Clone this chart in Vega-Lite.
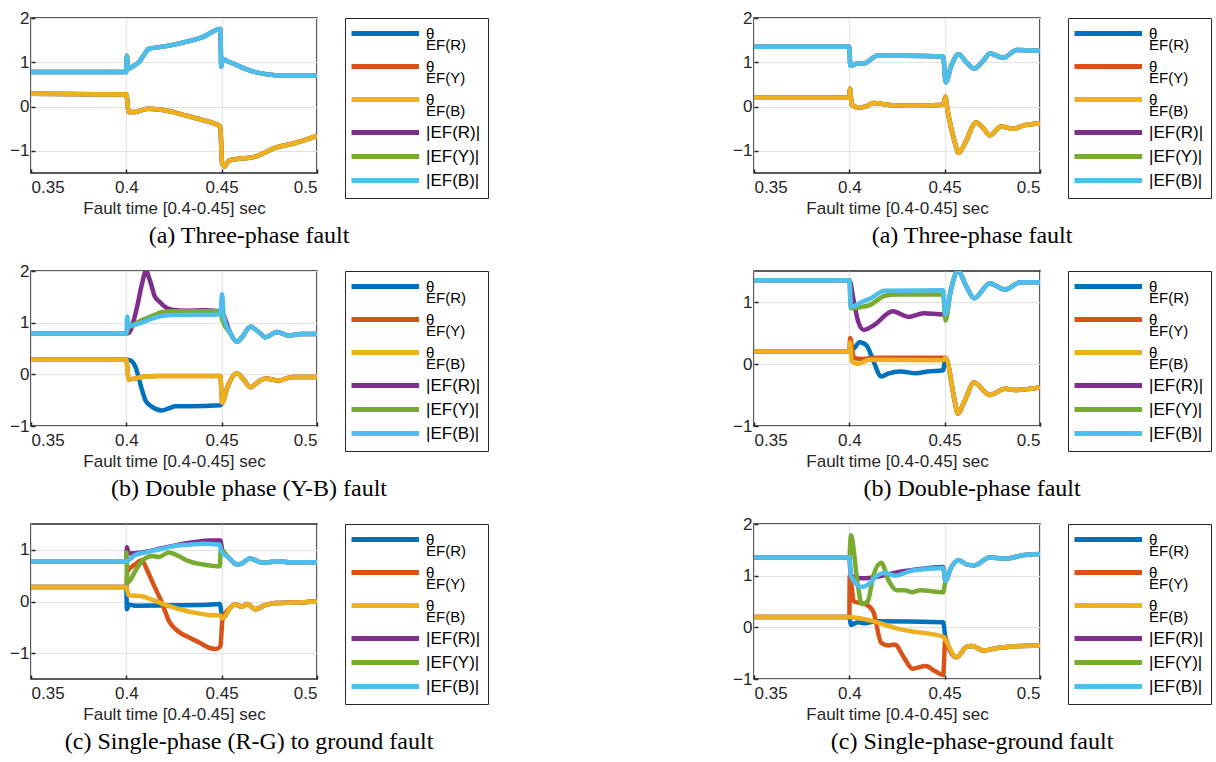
{
"$schema":"https://vega.github.io/schema/vega-lite/v6.json",
"padding":{"left":8,"top":8,"right":0,"bottom":0},
"background":"white",
"datasets":{"d":[
{"p":"a","s":"θEF(R)","t":0.35,"v":0.29},{"p":"a","s":"θEF(R)","t":0.4,"v":0.27},{"p":"a","s":"θEF(R)","t":0.4012,"v":-0.12},{"p":"a","s":"θEF(R)","t":0.405,"v":-0.12},{"p":"a","s":"θEF(R)","t":0.408,"v":-0.08},{"p":"a","s":"θEF(R)","t":0.4117,"v":-0.05},{"p":"a","s":"θEF(R)","t":0.4222,"v":-0.1},{"p":"a","s":"θEF(R)","t":0.431,"v":-0.2},{"p":"a","s":"θEF(R)","t":0.4397,"v":-0.3},{"p":"a","s":"θEF(R)","t":0.4493,"v":-0.45},{"p":"a","s":"θEF(R)","t":0.4502,"v":-1.28},{"p":"a","s":"θEF(R)","t":0.4516,"v":-1.35},{"p":"a","s":"θEF(R)","t":0.4537,"v":-1.22},{"p":"a","s":"θEF(R)","t":0.4572,"v":-1.19},{"p":"a","s":"θEF(R)","t":0.4677,"v":-1.13},{"p":"a","s":"θEF(R)","t":0.473,"v":-1.03},{"p":"a","s":"θEF(R)","t":0.4781,"v":-0.93},{"p":"a","s":"θEF(R)","t":0.4869,"v":-0.84},{"p":"a","s":"θEF(R)","t":0.4939,"v":-0.75},{"p":"a","s":"θEF(R)","t":0.5,"v":-0.66},
{"p":"a","s":"θEF(Y)","t":0.35,"v":0.29},{"p":"a","s":"θEF(Y)","t":0.4,"v":0.27},{"p":"a","s":"θEF(Y)","t":0.4012,"v":-0.12},{"p":"a","s":"θEF(Y)","t":0.405,"v":-0.12},{"p":"a","s":"θEF(Y)","t":0.408,"v":-0.08},{"p":"a","s":"θEF(Y)","t":0.4117,"v":-0.05},{"p":"a","s":"θEF(Y)","t":0.4222,"v":-0.1},{"p":"a","s":"θEF(Y)","t":0.431,"v":-0.2},{"p":"a","s":"θEF(Y)","t":0.4397,"v":-0.3},{"p":"a","s":"θEF(Y)","t":0.4493,"v":-0.45},{"p":"a","s":"θEF(Y)","t":0.4502,"v":-1.28},{"p":"a","s":"θEF(Y)","t":0.4516,"v":-1.35},{"p":"a","s":"θEF(Y)","t":0.4537,"v":-1.22},{"p":"a","s":"θEF(Y)","t":0.4572,"v":-1.19},{"p":"a","s":"θEF(Y)","t":0.4677,"v":-1.13},{"p":"a","s":"θEF(Y)","t":0.473,"v":-1.03},{"p":"a","s":"θEF(Y)","t":0.4781,"v":-0.93},{"p":"a","s":"θEF(Y)","t":0.4869,"v":-0.84},{"p":"a","s":"θEF(Y)","t":0.4939,"v":-0.75},{"p":"a","s":"θEF(Y)","t":0.5,"v":-0.66},
{"p":"a","s":"θEF(B)","t":0.35,"v":0.29},{"p":"a","s":"θEF(B)","t":0.4,"v":0.27},{"p":"a","s":"θEF(B)","t":0.4012,"v":-0.12},{"p":"a","s":"θEF(B)","t":0.405,"v":-0.12},{"p":"a","s":"θEF(B)","t":0.408,"v":-0.08},{"p":"a","s":"θEF(B)","t":0.4117,"v":-0.05},{"p":"a","s":"θEF(B)","t":0.4222,"v":-0.1},{"p":"a","s":"θEF(B)","t":0.431,"v":-0.2},{"p":"a","s":"θEF(B)","t":0.4397,"v":-0.3},{"p":"a","s":"θEF(B)","t":0.4493,"v":-0.45},{"p":"a","s":"θEF(B)","t":0.4502,"v":-1.28},{"p":"a","s":"θEF(B)","t":0.4516,"v":-1.35},{"p":"a","s":"θEF(B)","t":0.4537,"v":-1.22},{"p":"a","s":"θEF(B)","t":0.4572,"v":-1.19},{"p":"a","s":"θEF(B)","t":0.4677,"v":-1.13},{"p":"a","s":"θEF(B)","t":0.473,"v":-1.03},{"p":"a","s":"θEF(B)","t":0.4781,"v":-0.93},{"p":"a","s":"θEF(B)","t":0.4869,"v":-0.84},{"p":"a","s":"θEF(B)","t":0.4939,"v":-0.75},{"p":"a","s":"θEF(B)","t":0.5,"v":-0.66},
{"p":"a","s":"|EF(R)|","t":0.35,"v":0.78},{"p":"a","s":"|EF(R)|","t":0.4,"v":0.78},{"p":"a","s":"|EF(R)|","t":0.4003,"v":1.15},{"p":"a","s":"|EF(R)|","t":0.4008,"v":0.85},{"p":"a","s":"|EF(R)|","t":0.4038,"v":0.92},{"p":"a","s":"|EF(R)|","t":0.4065,"v":1.0},{"p":"a","s":"|EF(R)|","t":0.409,"v":1.15},{"p":"a","s":"|EF(R)|","t":0.4117,"v":1.3},{"p":"a","s":"|EF(R)|","t":0.42,"v":1.36},{"p":"a","s":"|EF(R)|","t":0.43,"v":1.45},{"p":"a","s":"|EF(R)|","t":0.44,"v":1.57},{"p":"a","s":"|EF(R)|","t":0.4493,"v":1.75},{"p":"a","s":"|EF(R)|","t":0.4498,"v":0.9},{"p":"a","s":"|EF(R)|","t":0.4505,"v":1.08},{"p":"a","s":"|EF(R)|","t":0.4528,"v":1.03},{"p":"a","s":"|EF(R)|","t":0.4572,"v":0.95},{"p":"a","s":"|EF(R)|","t":0.4624,"v":0.85},{"p":"a","s":"|EF(R)|","t":0.4694,"v":0.76},{"p":"a","s":"|EF(R)|","t":0.4781,"v":0.71},{"p":"a","s":"|EF(R)|","t":0.5,"v":0.7},
{"p":"a","s":"|EF(Y)|","t":0.35,"v":0.78},{"p":"a","s":"|EF(Y)|","t":0.4,"v":0.78},{"p":"a","s":"|EF(Y)|","t":0.4003,"v":1.15},{"p":"a","s":"|EF(Y)|","t":0.4008,"v":0.85},{"p":"a","s":"|EF(Y)|","t":0.4038,"v":0.92},{"p":"a","s":"|EF(Y)|","t":0.4065,"v":1.0},{"p":"a","s":"|EF(Y)|","t":0.409,"v":1.15},{"p":"a","s":"|EF(Y)|","t":0.4117,"v":1.3},{"p":"a","s":"|EF(Y)|","t":0.42,"v":1.36},{"p":"a","s":"|EF(Y)|","t":0.43,"v":1.45},{"p":"a","s":"|EF(Y)|","t":0.44,"v":1.57},{"p":"a","s":"|EF(Y)|","t":0.4493,"v":1.75},{"p":"a","s":"|EF(Y)|","t":0.4498,"v":0.9},{"p":"a","s":"|EF(Y)|","t":0.4505,"v":1.08},{"p":"a","s":"|EF(Y)|","t":0.4528,"v":1.03},{"p":"a","s":"|EF(Y)|","t":0.4572,"v":0.95},{"p":"a","s":"|EF(Y)|","t":0.4624,"v":0.85},{"p":"a","s":"|EF(Y)|","t":0.4694,"v":0.76},{"p":"a","s":"|EF(Y)|","t":0.4781,"v":0.71},{"p":"a","s":"|EF(Y)|","t":0.5,"v":0.7},
{"p":"a","s":"|EF(B)|","t":0.35,"v":0.78},{"p":"a","s":"|EF(B)|","t":0.4,"v":0.78},{"p":"a","s":"|EF(B)|","t":0.4003,"v":1.15},{"p":"a","s":"|EF(B)|","t":0.4008,"v":0.85},{"p":"a","s":"|EF(B)|","t":0.4038,"v":0.92},{"p":"a","s":"|EF(B)|","t":0.4065,"v":1.0},{"p":"a","s":"|EF(B)|","t":0.409,"v":1.15},{"p":"a","s":"|EF(B)|","t":0.4117,"v":1.3},{"p":"a","s":"|EF(B)|","t":0.42,"v":1.36},{"p":"a","s":"|EF(B)|","t":0.43,"v":1.45},{"p":"a","s":"|EF(B)|","t":0.44,"v":1.57},{"p":"a","s":"|EF(B)|","t":0.4493,"v":1.75},{"p":"a","s":"|EF(B)|","t":0.4498,"v":0.9},{"p":"a","s":"|EF(B)|","t":0.4505,"v":1.08},{"p":"a","s":"|EF(B)|","t":0.4528,"v":1.03},{"p":"a","s":"|EF(B)|","t":0.4572,"v":0.95},{"p":"a","s":"|EF(B)|","t":0.4624,"v":0.85},{"p":"a","s":"|EF(B)|","t":0.4694,"v":0.76},{"p":"a","s":"|EF(B)|","t":0.4781,"v":0.71},{"p":"a","s":"|EF(B)|","t":0.5,"v":0.7},

{"p":"b","s":"θEF(R)","t":0.35,"v":0.28},{"p":"b","s":"θEF(R)","t":0.4,"v":0.28},{"p":"b","s":"θEF(R)","t":0.4021,"v":0.27},{"p":"b","s":"θEF(R)","t":0.4047,"v":0.15},{"p":"b","s":"θEF(R)","t":0.4082,"v":-0.3},{"p":"b","s":"θEF(R)","t":0.41,"v":-0.5},{"p":"b","s":"θEF(R)","t":0.4135,"v":-0.63},{"p":"b","s":"θEF(R)","t":0.4187,"v":-0.7},{"p":"b","s":"θEF(R)","t":0.4222,"v":-0.66},{"p":"b","s":"θEF(R)","t":0.4257,"v":-0.62},{"p":"b","s":"θEF(R)","t":0.4327,"v":-0.62},{"p":"b","s":"θEF(R)","t":0.4493,"v":-0.6},{"p":"b","s":"θEF(R)","t":0.4503,"v":-0.55},{"p":"b","s":"θEF(R)","t":0.453,"v":-0.25},{"p":"b","s":"θEF(R)","t":0.458,"v":0.02},{"p":"b","s":"θEF(R)","t":0.4615,"v":-0.1},{"p":"b","s":"θEF(R)","t":0.465,"v":-0.25},{"p":"b","s":"θEF(R)","t":0.469,"v":-0.15},{"p":"b","s":"θEF(R)","t":0.4729,"v":-0.08},{"p":"b","s":"θEF(R)","t":0.4799,"v":-0.12},{"p":"b","s":"θEF(R)","t":0.4869,"v":-0.05},{"p":"b","s":"θEF(R)","t":0.5,"v":-0.05},
{"p":"b","s":"θEF(Y)","t":0.35,"v":0.28},{"p":"b","s":"θEF(Y)","t":0.4,"v":0.28},{"p":"b","s":"θEF(Y)","t":0.4012,"v":-0.1},{"p":"b","s":"θEF(Y)","t":0.4082,"v":-0.05},{"p":"b","s":"θEF(Y)","t":0.417,"v":-0.03},{"p":"b","s":"θEF(Y)","t":0.4493,"v":-0.03},{"p":"b","s":"θEF(Y)","t":0.4503,"v":-0.55},{"p":"b","s":"θEF(Y)","t":0.453,"v":-0.25},{"p":"b","s":"θEF(Y)","t":0.458,"v":0.02},{"p":"b","s":"θEF(Y)","t":0.4615,"v":-0.1},{"p":"b","s":"θEF(Y)","t":0.465,"v":-0.25},{"p":"b","s":"θEF(Y)","t":0.469,"v":-0.15},{"p":"b","s":"θEF(Y)","t":0.4729,"v":-0.08},{"p":"b","s":"θEF(Y)","t":0.4799,"v":-0.12},{"p":"b","s":"θEF(Y)","t":0.4869,"v":-0.05},{"p":"b","s":"θEF(Y)","t":0.5,"v":-0.05},
{"p":"b","s":"θEF(B)","t":0.35,"v":0.28},{"p":"b","s":"θEF(B)","t":0.4,"v":0.28},{"p":"b","s":"θEF(B)","t":0.4012,"v":-0.1},{"p":"b","s":"θEF(B)","t":0.4082,"v":-0.05},{"p":"b","s":"θEF(B)","t":0.417,"v":-0.03},{"p":"b","s":"θEF(B)","t":0.4493,"v":-0.03},{"p":"b","s":"θEF(B)","t":0.4503,"v":-0.55},{"p":"b","s":"θEF(B)","t":0.453,"v":-0.25},{"p":"b","s":"θEF(B)","t":0.458,"v":0.02},{"p":"b","s":"θEF(B)","t":0.4615,"v":-0.1},{"p":"b","s":"θEF(B)","t":0.465,"v":-0.25},{"p":"b","s":"θEF(B)","t":0.469,"v":-0.15},{"p":"b","s":"θEF(B)","t":0.4729,"v":-0.08},{"p":"b","s":"θEF(B)","t":0.4799,"v":-0.12},{"p":"b","s":"θEF(B)","t":0.4869,"v":-0.05},{"p":"b","s":"θEF(B)","t":0.5,"v":-0.05},
{"p":"b","s":"|EF(R)|","t":0.35,"v":0.79},{"p":"b","s":"|EF(R)|","t":0.4,"v":0.79},{"p":"b","s":"|EF(R)|","t":0.4012,"v":0.8},{"p":"b","s":"|EF(R)|","t":0.4056,"v":1.3},{"p":"b","s":"|EF(R)|","t":0.4082,"v":1.75},{"p":"b","s":"|EF(R)|","t":0.4103,"v":2.0},{"p":"b","s":"|EF(R)|","t":0.4125,"v":1.8},{"p":"b","s":"|EF(R)|","t":0.415,"v":1.5},{"p":"b","s":"|EF(R)|","t":0.417,"v":1.42},{"p":"b","s":"|EF(R)|","t":0.4205,"v":1.3},{"p":"b","s":"|EF(R)|","t":0.424,"v":1.25},{"p":"b","s":"|EF(R)|","t":0.4327,"v":1.23},{"p":"b","s":"|EF(R)|","t":0.4397,"v":1.24},{"p":"b","s":"|EF(R)|","t":0.4493,"v":1.22},{"p":"b","s":"|EF(R)|","t":0.4502,"v":1.2},{"p":"b","s":"|EF(R)|","t":0.4545,"v":0.8},{"p":"b","s":"|EF(R)|","t":0.458,"v":0.63},{"p":"b","s":"|EF(R)|","t":0.4607,"v":0.72},{"p":"b","s":"|EF(R)|","t":0.465,"v":0.92},{"p":"b","s":"|EF(R)|","t":0.4694,"v":0.82},{"p":"b","s":"|EF(R)|","t":0.4729,"v":0.72},{"p":"b","s":"|EF(R)|","t":0.479,"v":0.82},{"p":"b","s":"|EF(R)|","t":0.4851,"v":0.75},{"p":"b","s":"|EF(R)|","t":0.4921,"v":0.78},{"p":"b","s":"|EF(R)|","t":0.5,"v":0.78},
{"p":"b","s":"|EF(Y)|","t":0.35,"v":0.79},{"p":"b","s":"|EF(Y)|","t":0.4,"v":0.79},{"p":"b","s":"|EF(Y)|","t":0.4012,"v":0.92},{"p":"b","s":"|EF(Y)|","t":0.4047,"v":0.98},{"p":"b","s":"|EF(Y)|","t":0.4082,"v":1.05},{"p":"b","s":"|EF(Y)|","t":0.4135,"v":1.13},{"p":"b","s":"|EF(Y)|","t":0.4187,"v":1.2},{"p":"b","s":"|EF(Y)|","t":0.4257,"v":1.22},{"p":"b","s":"|EF(Y)|","t":0.4493,"v":1.22},{"p":"b","s":"|EF(Y)|","t":0.4503,"v":1.05},{"p":"b","s":"|EF(Y)|","t":0.4545,"v":0.8},{"p":"b","s":"|EF(Y)|","t":0.458,"v":0.63},{"p":"b","s":"|EF(Y)|","t":0.4607,"v":0.72},{"p":"b","s":"|EF(Y)|","t":0.465,"v":0.92},{"p":"b","s":"|EF(Y)|","t":0.4694,"v":0.82},{"p":"b","s":"|EF(Y)|","t":0.4729,"v":0.72},{"p":"b","s":"|EF(Y)|","t":0.479,"v":0.82},{"p":"b","s":"|EF(Y)|","t":0.4851,"v":0.75},{"p":"b","s":"|EF(Y)|","t":0.4921,"v":0.78},{"p":"b","s":"|EF(Y)|","t":0.5,"v":0.78},
{"p":"b","s":"|EF(B)|","t":0.35,"v":0.79},{"p":"b","s":"|EF(B)|","t":0.4,"v":0.79},{"p":"b","s":"|EF(B)|","t":0.4005,"v":1.12},{"p":"b","s":"|EF(B)|","t":0.4012,"v":0.93},{"p":"b","s":"|EF(B)|","t":0.4047,"v":0.96},{"p":"b","s":"|EF(B)|","t":0.4082,"v":1.0},{"p":"b","s":"|EF(B)|","t":0.4135,"v":1.08},{"p":"b","s":"|EF(B)|","t":0.4187,"v":1.13},{"p":"b","s":"|EF(B)|","t":0.424,"v":1.15},{"p":"b","s":"|EF(B)|","t":0.4493,"v":1.16},{"p":"b","s":"|EF(B)|","t":0.4502,"v":1.55},{"p":"b","s":"|EF(B)|","t":0.4512,"v":1.1},{"p":"b","s":"|EF(B)|","t":0.4545,"v":0.8},{"p":"b","s":"|EF(B)|","t":0.458,"v":0.63},{"p":"b","s":"|EF(B)|","t":0.4607,"v":0.72},{"p":"b","s":"|EF(B)|","t":0.465,"v":0.92},{"p":"b","s":"|EF(B)|","t":0.4694,"v":0.82},{"p":"b","s":"|EF(B)|","t":0.4729,"v":0.72},{"p":"b","s":"|EF(B)|","t":0.479,"v":0.82},{"p":"b","s":"|EF(B)|","t":0.4851,"v":0.75},{"p":"b","s":"|EF(B)|","t":0.4921,"v":0.78},{"p":"b","s":"|EF(B)|","t":0.5,"v":0.78},

{"p":"c","s":"θEF(R)","t":0.35,"v":0.28},{"p":"c","s":"θEF(R)","t":0.4,"v":0.28},{"p":"c","s":"θEF(R)","t":0.4003,"v":-0.15},{"p":"c","s":"θEF(R)","t":0.4012,"v":-0.06},{"p":"c","s":"θEF(R)","t":0.4047,"v":-0.08},{"p":"c","s":"θEF(R)","t":0.44,"v":-0.07},{"p":"c","s":"θEF(R)","t":0.449,"v":-0.05},{"p":"c","s":"θEF(R)","t":0.4505,"v":-0.33},{"p":"c","s":"θEF(R)","t":0.4545,"v":-0.12},{"p":"c","s":"θEF(R)","t":0.4572,"v":-0.06},{"p":"c","s":"θEF(R)","t":0.4607,"v":-0.1},{"p":"c","s":"θEF(R)","t":0.4633,"v":-0.05},{"p":"c","s":"θEF(R)","t":0.4677,"v":-0.15},{"p":"c","s":"θEF(R)","t":0.4729,"v":-0.07},{"p":"c","s":"θEF(R)","t":0.4781,"v":-0.03},{"p":"c","s":"θEF(R)","t":0.4886,"v":-0.02},{"p":"c","s":"θEF(R)","t":0.5,"v":0.0},
{"p":"c","s":"θEF(Y)","t":0.35,"v":0.28},{"p":"c","s":"θEF(Y)","t":0.4,"v":0.28},{"p":"c","s":"θEF(Y)","t":0.4005,"v":0.58},{"p":"c","s":"θEF(Y)","t":0.4047,"v":0.72},{"p":"c","s":"θEF(Y)","t":0.408,"v":0.8},{"p":"c","s":"θEF(Y)","t":0.411,"v":0.6},{"p":"c","s":"θEF(Y)","t":0.414,"v":0.35},{"p":"c","s":"θEF(Y)","t":0.4184,"v":0.0},{"p":"c","s":"θEF(Y)","t":0.4227,"v":-0.4},{"p":"c","s":"θEF(Y)","t":0.428,"v":-0.6},{"p":"c","s":"θEF(Y)","t":0.4332,"v":-0.7},{"p":"c","s":"θEF(Y)","t":0.4385,"v":-0.8},{"p":"c","s":"θEF(Y)","t":0.4437,"v":-0.9},{"p":"c","s":"θEF(Y)","t":0.4472,"v":-0.92},{"p":"c","s":"θEF(Y)","t":0.4493,"v":-0.87},{"p":"c","s":"θEF(Y)","t":0.4505,"v":-0.33},{"p":"c","s":"θEF(Y)","t":0.4545,"v":-0.12},{"p":"c","s":"θEF(Y)","t":0.4572,"v":-0.06},{"p":"c","s":"θEF(Y)","t":0.4607,"v":-0.1},{"p":"c","s":"θEF(Y)","t":0.4633,"v":-0.05},{"p":"c","s":"θEF(Y)","t":0.4677,"v":-0.15},{"p":"c","s":"θEF(Y)","t":0.4729,"v":-0.07},{"p":"c","s":"θEF(Y)","t":0.4781,"v":-0.03},{"p":"c","s":"θEF(Y)","t":0.4886,"v":-0.02},{"p":"c","s":"θEF(Y)","t":0.5,"v":0.0},
{"p":"c","s":"θEF(B)","t":0.35,"v":0.28},{"p":"c","s":"θEF(B)","t":0.4,"v":0.28},{"p":"c","s":"θEF(B)","t":0.4012,"v":0.12},{"p":"c","s":"θEF(B)","t":0.4082,"v":0.1},{"p":"c","s":"θEF(B)","t":0.4117,"v":0.06},{"p":"c","s":"θEF(B)","t":0.4187,"v":-0.04},{"p":"c","s":"θEF(B)","t":0.428,"v":-0.15},{"p":"c","s":"θEF(B)","t":0.4362,"v":-0.22},{"p":"c","s":"θEF(B)","t":0.4432,"v":-0.26},{"p":"c","s":"θEF(B)","t":0.4493,"v":-0.27},{"p":"c","s":"θEF(B)","t":0.4505,"v":-0.33},{"p":"c","s":"θEF(B)","t":0.4545,"v":-0.12},{"p":"c","s":"θEF(B)","t":0.4572,"v":-0.06},{"p":"c","s":"θEF(B)","t":0.4607,"v":-0.1},{"p":"c","s":"θEF(B)","t":0.4633,"v":-0.05},{"p":"c","s":"θEF(B)","t":0.4677,"v":-0.15},{"p":"c","s":"θEF(B)","t":0.4729,"v":-0.07},{"p":"c","s":"θEF(B)","t":0.4781,"v":-0.03},{"p":"c","s":"θEF(B)","t":0.4886,"v":-0.02},{"p":"c","s":"θEF(B)","t":0.5,"v":0.0},
{"p":"c","s":"|EF(R)|","t":0.35,"v":0.78},{"p":"c","s":"|EF(R)|","t":0.4,"v":0.78},{"p":"c","s":"|EF(R)|","t":0.4003,"v":1.05},{"p":"c","s":"|EF(R)|","t":0.4012,"v":0.93},{"p":"c","s":"|EF(R)|","t":0.4082,"v":0.95},{"p":"c","s":"|EF(R)|","t":0.4187,"v":1.03},{"p":"c","s":"|EF(R)|","t":0.4274,"v":1.1},{"p":"c","s":"|EF(R)|","t":0.4362,"v":1.15},{"p":"c","s":"|EF(R)|","t":0.4432,"v":1.18},{"p":"c","s":"|EF(R)|","t":0.4493,"v":1.18},{"p":"c","s":"|EF(R)|","t":0.4503,"v":1.0},{"p":"c","s":"|EF(R)|","t":0.4537,"v":0.85},{"p":"c","s":"|EF(R)|","t":0.458,"v":0.72},{"p":"c","s":"|EF(R)|","t":0.4607,"v":0.74},{"p":"c","s":"|EF(R)|","t":0.4647,"v":0.83},{"p":"c","s":"|EF(R)|","t":0.4717,"v":0.75},{"p":"c","s":"|EF(R)|","t":0.4799,"v":0.78},{"p":"c","s":"|EF(R)|","t":0.4851,"v":0.76},{"p":"c","s":"|EF(R)|","t":0.5,"v":0.76},
{"p":"c","s":"|EF(Y)|","t":0.35,"v":0.78},{"p":"c","s":"|EF(Y)|","t":0.4,"v":0.78},{"p":"c","s":"|EF(Y)|","t":0.4001,"v":0.95},{"p":"c","s":"|EF(Y)|","t":0.4004,"v":0.35},{"p":"c","s":"|EF(Y)|","t":0.4021,"v":0.42},{"p":"c","s":"|EF(Y)|","t":0.4056,"v":0.65},{"p":"c","s":"|EF(Y)|","t":0.4087,"v":0.8},{"p":"c","s":"|EF(Y)|","t":0.4135,"v":0.88},{"p":"c","s":"|EF(Y)|","t":0.417,"v":0.86},{"p":"c","s":"|EF(Y)|","t":0.4222,"v":0.95},{"p":"c","s":"|EF(Y)|","t":0.4274,"v":0.88},{"p":"c","s":"|EF(Y)|","t":0.4327,"v":0.78},{"p":"c","s":"|EF(Y)|","t":0.4397,"v":0.72},{"p":"c","s":"|EF(Y)|","t":0.449,"v":0.68},{"p":"c","s":"|EF(Y)|","t":0.4495,"v":1.0},{"p":"c","s":"|EF(Y)|","t":0.4537,"v":0.85},{"p":"c","s":"|EF(Y)|","t":0.458,"v":0.72},{"p":"c","s":"|EF(Y)|","t":0.4607,"v":0.74},{"p":"c","s":"|EF(Y)|","t":0.4647,"v":0.83},{"p":"c","s":"|EF(Y)|","t":0.4717,"v":0.75},{"p":"c","s":"|EF(Y)|","t":0.4799,"v":0.78},{"p":"c","s":"|EF(Y)|","t":0.4851,"v":0.76},{"p":"c","s":"|EF(Y)|","t":0.5,"v":0.76},
{"p":"c","s":"|EF(B)|","t":0.35,"v":0.78},{"p":"c","s":"|EF(B)|","t":0.4,"v":0.78},{"p":"c","s":"|EF(B)|","t":0.4012,"v":0.8},{"p":"c","s":"|EF(B)|","t":0.4047,"v":0.9},{"p":"c","s":"|EF(B)|","t":0.41,"v":0.95},{"p":"c","s":"|EF(B)|","t":0.4187,"v":1.02},{"p":"c","s":"|EF(B)|","t":0.4257,"v":1.08},{"p":"c","s":"|EF(B)|","t":0.4327,"v":1.1},{"p":"c","s":"|EF(B)|","t":0.4397,"v":1.12},{"p":"c","s":"|EF(B)|","t":0.449,"v":1.1},{"p":"c","s":"|EF(B)|","t":0.4497,"v":0.97},{"p":"c","s":"|EF(B)|","t":0.4537,"v":0.85},{"p":"c","s":"|EF(B)|","t":0.458,"v":0.72},{"p":"c","s":"|EF(B)|","t":0.4607,"v":0.74},{"p":"c","s":"|EF(B)|","t":0.4647,"v":0.83},{"p":"c","s":"|EF(B)|","t":0.4717,"v":0.75},{"p":"c","s":"|EF(B)|","t":0.4799,"v":0.78},{"p":"c","s":"|EF(B)|","t":0.4851,"v":0.76},{"p":"c","s":"|EF(B)|","t":0.5,"v":0.76},

{"p":"d","s":"θEF(R)","t":0.35,"v":0.2},{"p":"d","s":"θEF(R)","t":0.4,"v":0.2},{"p":"d","s":"θEF(R)","t":0.4004,"v":0.4},{"p":"d","s":"θEF(R)","t":0.4012,"v":0.05},{"p":"d","s":"θEF(R)","t":0.4045,"v":-0.02},{"p":"d","s":"θEF(R)","t":0.4085,"v":0.0},{"p":"d","s":"θEF(R)","t":0.4126,"v":0.08},{"p":"d","s":"θEF(R)","t":0.4228,"v":0.03},{"p":"d","s":"θEF(R)","t":0.433,"v":0.02},{"p":"d","s":"θEF(R)","t":0.4492,"v":0.04},{"p":"d","s":"θEF(R)","t":0.4504,"v":0.22},{"p":"d","s":"θEF(R)","t":0.4512,"v":0.0},{"p":"d","s":"θEF(R)","t":0.4553,"v":-0.8},{"p":"d","s":"θEF(R)","t":0.4573,"v":-1.05},{"p":"d","s":"θEF(R)","t":0.4604,"v":-0.85},{"p":"d","s":"θEF(R)","t":0.4665,"v":-0.36},{"p":"d","s":"θEF(R)","t":0.4705,"v":-0.5},{"p":"d","s":"θEF(R)","t":0.4736,"v":-0.65},{"p":"d","s":"θEF(R)","t":0.4797,"v":-0.45},{"p":"d","s":"θEF(R)","t":0.4858,"v":-0.5},{"p":"d","s":"θEF(R)","t":0.4919,"v":-0.42},{"p":"d","s":"θEF(R)","t":0.5,"v":-0.38},
{"p":"d","s":"θEF(Y)","t":0.35,"v":0.2},{"p":"d","s":"θEF(Y)","t":0.4,"v":0.2},{"p":"d","s":"θEF(Y)","t":0.4004,"v":0.4},{"p":"d","s":"θEF(Y)","t":0.4012,"v":0.05},{"p":"d","s":"θEF(Y)","t":0.4045,"v":-0.02},{"p":"d","s":"θEF(Y)","t":0.4085,"v":0.0},{"p":"d","s":"θEF(Y)","t":0.4126,"v":0.08},{"p":"d","s":"θEF(Y)","t":0.4228,"v":0.03},{"p":"d","s":"θEF(Y)","t":0.433,"v":0.02},{"p":"d","s":"θEF(Y)","t":0.4492,"v":0.04},{"p":"d","s":"θEF(Y)","t":0.4504,"v":0.22},{"p":"d","s":"θEF(Y)","t":0.4512,"v":0.0},{"p":"d","s":"θEF(Y)","t":0.4553,"v":-0.8},{"p":"d","s":"θEF(Y)","t":0.4573,"v":-1.05},{"p":"d","s":"θEF(Y)","t":0.4604,"v":-0.85},{"p":"d","s":"θEF(Y)","t":0.4665,"v":-0.36},{"p":"d","s":"θEF(Y)","t":0.4705,"v":-0.5},{"p":"d","s":"θEF(Y)","t":0.4736,"v":-0.65},{"p":"d","s":"θEF(Y)","t":0.4797,"v":-0.45},{"p":"d","s":"θEF(Y)","t":0.4858,"v":-0.5},{"p":"d","s":"θEF(Y)","t":0.4919,"v":-0.42},{"p":"d","s":"θEF(Y)","t":0.5,"v":-0.38},
{"p":"d","s":"θEF(B)","t":0.35,"v":0.2},{"p":"d","s":"θEF(B)","t":0.4,"v":0.2},{"p":"d","s":"θEF(B)","t":0.4004,"v":0.4},{"p":"d","s":"θEF(B)","t":0.4012,"v":0.05},{"p":"d","s":"θEF(B)","t":0.4045,"v":-0.02},{"p":"d","s":"θEF(B)","t":0.4085,"v":0.0},{"p":"d","s":"θEF(B)","t":0.4126,"v":0.08},{"p":"d","s":"θEF(B)","t":0.4228,"v":0.03},{"p":"d","s":"θEF(B)","t":0.433,"v":0.02},{"p":"d","s":"θEF(B)","t":0.4492,"v":0.04},{"p":"d","s":"θEF(B)","t":0.4504,"v":0.22},{"p":"d","s":"θEF(B)","t":0.4512,"v":0.0},{"p":"d","s":"θEF(B)","t":0.4553,"v":-0.8},{"p":"d","s":"θEF(B)","t":0.4573,"v":-1.05},{"p":"d","s":"θEF(B)","t":0.4604,"v":-0.85},{"p":"d","s":"θEF(B)","t":0.4665,"v":-0.36},{"p":"d","s":"θEF(B)","t":0.4705,"v":-0.5},{"p":"d","s":"θEF(B)","t":0.4736,"v":-0.65},{"p":"d","s":"θEF(B)","t":0.4797,"v":-0.45},{"p":"d","s":"θEF(B)","t":0.4858,"v":-0.5},{"p":"d","s":"θEF(B)","t":0.4919,"v":-0.42},{"p":"d","s":"θEF(B)","t":0.5,"v":-0.38},
{"p":"d","s":"|EF(R)|","t":0.35,"v":1.35},{"p":"d","s":"|EF(R)|","t":0.4,"v":1.35},{"p":"d","s":"|EF(R)|","t":0.4005,"v":0.92},{"p":"d","s":"|EF(R)|","t":0.4045,"v":0.98},{"p":"d","s":"|EF(R)|","t":0.4075,"v":0.97},{"p":"d","s":"|EF(R)|","t":0.4146,"v":1.15},{"p":"d","s":"|EF(R)|","t":0.43,"v":1.15},{"p":"d","s":"|EF(R)|","t":0.4492,"v":1.13},{"p":"d","s":"|EF(R)|","t":0.4506,"v":0.55},{"p":"d","s":"|EF(R)|","t":0.4533,"v":0.9},{"p":"d","s":"|EF(R)|","t":0.4573,"v":1.18},{"p":"d","s":"|EF(R)|","t":0.4614,"v":1.0},{"p":"d","s":"|EF(R)|","t":0.4655,"v":0.86},{"p":"d","s":"|EF(R)|","t":0.4705,"v":1.05},{"p":"d","s":"|EF(R)|","t":0.4736,"v":1.2},{"p":"d","s":"|EF(R)|","t":0.4807,"v":1.1},{"p":"d","s":"|EF(R)|","t":0.4878,"v":1.28},{"p":"d","s":"|EF(R)|","t":0.5,"v":1.26},
{"p":"d","s":"|EF(Y)|","t":0.35,"v":1.35},{"p":"d","s":"|EF(Y)|","t":0.4,"v":1.35},{"p":"d","s":"|EF(Y)|","t":0.4005,"v":0.92},{"p":"d","s":"|EF(Y)|","t":0.4045,"v":0.98},{"p":"d","s":"|EF(Y)|","t":0.4075,"v":0.97},{"p":"d","s":"|EF(Y)|","t":0.4146,"v":1.15},{"p":"d","s":"|EF(Y)|","t":0.43,"v":1.15},{"p":"d","s":"|EF(Y)|","t":0.4492,"v":1.13},{"p":"d","s":"|EF(Y)|","t":0.4506,"v":0.55},{"p":"d","s":"|EF(Y)|","t":0.4533,"v":0.9},{"p":"d","s":"|EF(Y)|","t":0.4573,"v":1.18},{"p":"d","s":"|EF(Y)|","t":0.4614,"v":1.0},{"p":"d","s":"|EF(Y)|","t":0.4655,"v":0.86},{"p":"d","s":"|EF(Y)|","t":0.4705,"v":1.05},{"p":"d","s":"|EF(Y)|","t":0.4736,"v":1.2},{"p":"d","s":"|EF(Y)|","t":0.4807,"v":1.1},{"p":"d","s":"|EF(Y)|","t":0.4878,"v":1.28},{"p":"d","s":"|EF(Y)|","t":0.5,"v":1.26},
{"p":"d","s":"|EF(B)|","t":0.35,"v":1.35},{"p":"d","s":"|EF(B)|","t":0.4,"v":1.35},{"p":"d","s":"|EF(B)|","t":0.4005,"v":0.92},{"p":"d","s":"|EF(B)|","t":0.4045,"v":0.98},{"p":"d","s":"|EF(B)|","t":0.4075,"v":0.97},{"p":"d","s":"|EF(B)|","t":0.4146,"v":1.15},{"p":"d","s":"|EF(B)|","t":0.43,"v":1.15},{"p":"d","s":"|EF(B)|","t":0.4492,"v":1.13},{"p":"d","s":"|EF(B)|","t":0.4506,"v":0.55},{"p":"d","s":"|EF(B)|","t":0.4533,"v":0.9},{"p":"d","s":"|EF(B)|","t":0.4573,"v":1.18},{"p":"d","s":"|EF(B)|","t":0.4614,"v":1.0},{"p":"d","s":"|EF(B)|","t":0.4655,"v":0.86},{"p":"d","s":"|EF(B)|","t":0.4705,"v":1.05},{"p":"d","s":"|EF(B)|","t":0.4736,"v":1.2},{"p":"d","s":"|EF(B)|","t":0.4807,"v":1.1},{"p":"d","s":"|EF(B)|","t":0.4878,"v":1.28},{"p":"d","s":"|EF(B)|","t":0.5,"v":1.26},

{"p":"e","s":"θEF(R)","t":0.35,"v":0.2},{"p":"e","s":"θEF(R)","t":0.4,"v":0.2},{"p":"e","s":"θEF(R)","t":0.4024,"v":0.25},{"p":"e","s":"θEF(R)","t":0.4055,"v":0.35},{"p":"e","s":"θEF(R)","t":0.409,"v":0.3},{"p":"e","s":"θEF(R)","t":0.4126,"v":0.05},{"p":"e","s":"θEF(R)","t":0.4167,"v":-0.2},{"p":"e","s":"θEF(R)","t":0.4207,"v":-0.15},{"p":"e","s":"θEF(R)","t":0.4268,"v":-0.12},{"p":"e","s":"θEF(R)","t":0.435,"v":-0.15},{"p":"e","s":"θEF(R)","t":0.4411,"v":-0.12},{"p":"e","s":"θEF(R)","t":0.4492,"v":-0.1},{"p":"e","s":"θEF(R)","t":0.4504,"v":0.1},{"p":"e","s":"θEF(R)","t":0.4553,"v":-0.6},{"p":"e","s":"θEF(R)","t":0.4569,"v":-0.8},{"p":"e","s":"θEF(R)","t":0.4604,"v":-0.6},{"p":"e","s":"θEF(R)","t":0.4654,"v":-0.3},{"p":"e","s":"θEF(R)","t":0.4736,"v":-0.5},{"p":"e","s":"θEF(R)","t":0.4817,"v":-0.4},{"p":"e","s":"θEF(R)","t":0.4878,"v":-0.42},{"p":"e","s":"θEF(R)","t":0.5,"v":-0.38},
{"p":"e","s":"θEF(Y)","t":0.35,"v":0.2},{"p":"e","s":"θEF(Y)","t":0.4,"v":0.2},{"p":"e","s":"θEF(Y)","t":0.4004,"v":0.42},{"p":"e","s":"θEF(Y)","t":0.4024,"v":0.1},{"p":"e","s":"θEF(Y)","t":0.4065,"v":0.08},{"p":"e","s":"θEF(Y)","t":0.4126,"v":0.1},{"p":"e","s":"θEF(Y)","t":0.4492,"v":0.1},{"p":"e","s":"θEF(Y)","t":0.4504,"v":0.1},{"p":"e","s":"θEF(Y)","t":0.4553,"v":-0.6},{"p":"e","s":"θEF(Y)","t":0.4569,"v":-0.8},{"p":"e","s":"θEF(Y)","t":0.4604,"v":-0.6},{"p":"e","s":"θEF(Y)","t":0.4654,"v":-0.3},{"p":"e","s":"θEF(Y)","t":0.4736,"v":-0.5},{"p":"e","s":"θEF(Y)","t":0.4817,"v":-0.4},{"p":"e","s":"θEF(Y)","t":0.4878,"v":-0.42},{"p":"e","s":"θEF(Y)","t":0.5,"v":-0.38},
{"p":"e","s":"θEF(B)","t":0.35,"v":0.2},{"p":"e","s":"θEF(B)","t":0.4,"v":0.2},{"p":"e","s":"θEF(B)","t":0.4004,"v":0.35},{"p":"e","s":"θEF(B)","t":0.4012,"v":0.05},{"p":"e","s":"θEF(B)","t":0.4045,"v":0.0},{"p":"e","s":"θEF(B)","t":0.4106,"v":0.07},{"p":"e","s":"θEF(B)","t":0.4492,"v":0.06},{"p":"e","s":"θEF(B)","t":0.4504,"v":0.1},{"p":"e","s":"θEF(B)","t":0.4553,"v":-0.6},{"p":"e","s":"θEF(B)","t":0.4569,"v":-0.8},{"p":"e","s":"θEF(B)","t":0.4604,"v":-0.6},{"p":"e","s":"θEF(B)","t":0.4654,"v":-0.3},{"p":"e","s":"θEF(B)","t":0.4736,"v":-0.5},{"p":"e","s":"θEF(B)","t":0.4817,"v":-0.4},{"p":"e","s":"θEF(B)","t":0.4878,"v":-0.42},{"p":"e","s":"θEF(B)","t":0.5,"v":-0.38},
{"p":"e","s":"|EF(R)|","t":0.35,"v":1.35},{"p":"e","s":"|EF(R)|","t":0.4,"v":1.35},{"p":"e","s":"|EF(R)|","t":0.4024,"v":1.0},{"p":"e","s":"|EF(R)|","t":0.4045,"v":0.7},{"p":"e","s":"|EF(R)|","t":0.4075,"v":0.55},{"p":"e","s":"|EF(R)|","t":0.4126,"v":0.62},{"p":"e","s":"|EF(R)|","t":0.4228,"v":0.85},{"p":"e","s":"|EF(R)|","t":0.4309,"v":0.76},{"p":"e","s":"|EF(R)|","t":0.439,"v":0.82},{"p":"e","s":"|EF(R)|","t":0.4492,"v":0.8},{"p":"e","s":"|EF(R)|","t":0.4504,"v":0.8},{"p":"e","s":"|EF(R)|","t":0.4533,"v":1.2},{"p":"e","s":"|EF(R)|","t":0.4569,"v":1.5},{"p":"e","s":"|EF(R)|","t":0.4614,"v":1.25},{"p":"e","s":"|EF(R)|","t":0.4655,"v":1.06},{"p":"e","s":"|EF(R)|","t":0.4736,"v":1.3},{"p":"e","s":"|EF(R)|","t":0.4817,"v":1.2},{"p":"e","s":"|EF(R)|","t":0.4898,"v":1.32},{"p":"e","s":"|EF(R)|","t":0.5,"v":1.32},
{"p":"e","s":"|EF(Y)|","t":0.35,"v":1.35},{"p":"e","s":"|EF(Y)|","t":0.4,"v":1.35},{"p":"e","s":"|EF(Y)|","t":0.4008,"v":0.9},{"p":"e","s":"|EF(Y)|","t":0.4065,"v":0.92},{"p":"e","s":"|EF(Y)|","t":0.4106,"v":0.95},{"p":"e","s":"|EF(Y)|","t":0.4187,"v":1.1},{"p":"e","s":"|EF(Y)|","t":0.4248,"v":1.12},{"p":"e","s":"|EF(Y)|","t":0.4492,"v":1.12},{"p":"e","s":"|EF(Y)|","t":0.4504,"v":0.7},{"p":"e","s":"|EF(Y)|","t":0.4533,"v":1.2},{"p":"e","s":"|EF(Y)|","t":0.4569,"v":1.5},{"p":"e","s":"|EF(Y)|","t":0.4614,"v":1.25},{"p":"e","s":"|EF(Y)|","t":0.4655,"v":1.06},{"p":"e","s":"|EF(Y)|","t":0.4736,"v":1.3},{"p":"e","s":"|EF(Y)|","t":0.4817,"v":1.2},{"p":"e","s":"|EF(Y)|","t":0.4898,"v":1.32},{"p":"e","s":"|EF(Y)|","t":0.5,"v":1.32},
{"p":"e","s":"|EF(B)|","t":0.35,"v":1.35},{"p":"e","s":"|EF(B)|","t":0.4,"v":1.35},{"p":"e","s":"|EF(B)|","t":0.4008,"v":0.92},{"p":"e","s":"|EF(B)|","t":0.4065,"v":1.0},{"p":"e","s":"|EF(B)|","t":0.4106,"v":1.05},{"p":"e","s":"|EF(B)|","t":0.4187,"v":1.18},{"p":"e","s":"|EF(B)|","t":0.4492,"v":1.19},{"p":"e","s":"|EF(B)|","t":0.4504,"v":0.8},{"p":"e","s":"|EF(B)|","t":0.4533,"v":1.2},{"p":"e","s":"|EF(B)|","t":0.4569,"v":1.5},{"p":"e","s":"|EF(B)|","t":0.4614,"v":1.25},{"p":"e","s":"|EF(B)|","t":0.4655,"v":1.06},{"p":"e","s":"|EF(B)|","t":0.4736,"v":1.3},{"p":"e","s":"|EF(B)|","t":0.4817,"v":1.2},{"p":"e","s":"|EF(B)|","t":0.4898,"v":1.32},{"p":"e","s":"|EF(B)|","t":0.5,"v":1.32},

{"p":"f","s":"θEF(R)","t":0.35,"v":0.2},{"p":"f","s":"θEF(R)","t":0.4,"v":0.2},{"p":"f","s":"θEF(R)","t":0.4008,"v":0.05},{"p":"f","s":"θEF(R)","t":0.4045,"v":0.1},{"p":"f","s":"θEF(R)","t":0.4085,"v":0.08},{"p":"f","s":"θEF(R)","t":0.4146,"v":0.12},{"p":"f","s":"θEF(R)","t":0.4492,"v":0.1},{"p":"f","s":"θEF(R)","t":0.4504,"v":-0.2},{"p":"f","s":"θEF(R)","t":0.4512,"v":-0.3},{"p":"f","s":"θEF(R)","t":0.4563,"v":-0.58},{"p":"f","s":"θEF(R)","t":0.4614,"v":-0.38},{"p":"f","s":"θEF(R)","t":0.4644,"v":-0.36},{"p":"f","s":"θEF(R)","t":0.4705,"v":-0.45},{"p":"f","s":"θEF(R)","t":0.4776,"v":-0.4},{"p":"f","s":"θEF(R)","t":0.4858,"v":-0.37},{"p":"f","s":"θEF(R)","t":0.5,"v":-0.35},
{"p":"f","s":"θEF(Y)","t":0.35,"v":0.2},{"p":"f","s":"θEF(Y)","t":0.4,"v":0.2},{"p":"f","s":"θEF(Y)","t":0.4002,"v":1.0},{"p":"f","s":"θEF(Y)","t":0.4024,"v":0.5},{"p":"f","s":"θEF(Y)","t":0.4085,"v":0.45},{"p":"f","s":"θEF(Y)","t":0.4126,"v":0.3},{"p":"f","s":"θEF(Y)","t":0.4167,"v":-0.3},{"p":"f","s":"θEF(Y)","t":0.4207,"v":-0.35},{"p":"f","s":"θEF(Y)","t":0.4238,"v":-0.33},{"p":"f","s":"θEF(Y)","t":0.4289,"v":-0.6},{"p":"f","s":"θEF(Y)","t":0.433,"v":-0.8},{"p":"f","s":"θEF(Y)","t":0.44,"v":-0.75},{"p":"f","s":"θEF(Y)","t":0.4451,"v":-0.85},{"p":"f","s":"θEF(Y)","t":0.4492,"v":-0.92},{"p":"f","s":"θEF(Y)","t":0.4504,"v":-0.2},{"p":"f","s":"θEF(Y)","t":0.4512,"v":-0.3},{"p":"f","s":"θEF(Y)","t":0.4563,"v":-0.58},{"p":"f","s":"θEF(Y)","t":0.4614,"v":-0.38},{"p":"f","s":"θEF(Y)","t":0.4644,"v":-0.36},{"p":"f","s":"θEF(Y)","t":0.4705,"v":-0.45},{"p":"f","s":"θEF(Y)","t":0.4776,"v":-0.4},{"p":"f","s":"θEF(Y)","t":0.4858,"v":-0.37},{"p":"f","s":"θEF(Y)","t":0.5,"v":-0.35},
{"p":"f","s":"θEF(B)","t":0.35,"v":0.2},{"p":"f","s":"θEF(B)","t":0.4,"v":0.2},{"p":"f","s":"θEF(B)","t":0.4045,"v":0.18},{"p":"f","s":"θEF(B)","t":0.4126,"v":0.12},{"p":"f","s":"θEF(B)","t":0.4187,"v":0.05},{"p":"f","s":"θEF(B)","t":0.4248,"v":-0.02},{"p":"f","s":"θEF(B)","t":0.433,"v":-0.08},{"p":"f","s":"θEF(B)","t":0.4411,"v":-0.12},{"p":"f","s":"θEF(B)","t":0.4492,"v":-0.18},{"p":"f","s":"θEF(B)","t":0.4512,"v":-0.3},{"p":"f","s":"θEF(B)","t":0.4563,"v":-0.58},{"p":"f","s":"θEF(B)","t":0.4614,"v":-0.38},{"p":"f","s":"θEF(B)","t":0.4644,"v":-0.36},{"p":"f","s":"θEF(B)","t":0.4705,"v":-0.45},{"p":"f","s":"θEF(B)","t":0.4776,"v":-0.4},{"p":"f","s":"θEF(B)","t":0.4858,"v":-0.37},{"p":"f","s":"θEF(B)","t":0.5,"v":-0.35},
{"p":"f","s":"|EF(R)|","t":0.35,"v":1.35},{"p":"f","s":"|EF(R)|","t":0.4,"v":1.35},{"p":"f","s":"|EF(R)|","t":0.4008,"v":1.0},{"p":"f","s":"|EF(R)|","t":0.4065,"v":0.95},{"p":"f","s":"|EF(R)|","t":0.4146,"v":0.98},{"p":"f","s":"|EF(R)|","t":0.4228,"v":1.05},{"p":"f","s":"|EF(R)|","t":0.435,"v":1.12},{"p":"f","s":"|EF(R)|","t":0.4492,"v":1.17},{"p":"f","s":"|EF(R)|","t":0.4504,"v":0.9},{"p":"f","s":"|EF(R)|","t":0.4533,"v":1.15},{"p":"f","s":"|EF(R)|","t":0.4573,"v":1.3},{"p":"f","s":"|EF(R)|","t":0.4614,"v":1.22},{"p":"f","s":"|EF(R)|","t":0.4654,"v":1.2},{"p":"f","s":"|EF(R)|","t":0.4736,"v":1.35},{"p":"f","s":"|EF(R)|","t":0.4817,"v":1.33},{"p":"f","s":"|EF(R)|","t":0.4919,"v":1.4},{"p":"f","s":"|EF(R)|","t":0.5,"v":1.42},
{"p":"f","s":"|EF(Y)|","t":0.35,"v":1.35},{"p":"f","s":"|EF(Y)|","t":0.4,"v":1.35},{"p":"f","s":"|EF(Y)|","t":0.4008,"v":1.78},{"p":"f","s":"|EF(Y)|","t":0.4045,"v":0.8},{"p":"f","s":"|EF(Y)|","t":0.4065,"v":0.45},{"p":"f","s":"|EF(Y)|","t":0.4096,"v":0.5},{"p":"f","s":"|EF(Y)|","t":0.4126,"v":1.0},{"p":"f","s":"|EF(Y)|","t":0.4167,"v":1.25},{"p":"f","s":"|EF(Y)|","t":0.4207,"v":0.9},{"p":"f","s":"|EF(Y)|","t":0.4248,"v":0.72},{"p":"f","s":"|EF(Y)|","t":0.4289,"v":0.72},{"p":"f","s":"|EF(Y)|","t":0.433,"v":0.68},{"p":"f","s":"|EF(Y)|","t":0.437,"v":0.72},{"p":"f","s":"|EF(Y)|","t":0.4492,"v":0.68},{"p":"f","s":"|EF(Y)|","t":0.4504,"v":0.9},{"p":"f","s":"|EF(Y)|","t":0.4533,"v":1.15},{"p":"f","s":"|EF(Y)|","t":0.4573,"v":1.3},{"p":"f","s":"|EF(Y)|","t":0.4614,"v":1.22},{"p":"f","s":"|EF(Y)|","t":0.4654,"v":1.2},{"p":"f","s":"|EF(Y)|","t":0.4736,"v":1.35},{"p":"f","s":"|EF(Y)|","t":0.4817,"v":1.33},{"p":"f","s":"|EF(Y)|","t":0.4919,"v":1.4},{"p":"f","s":"|EF(Y)|","t":0.5,"v":1.42},
{"p":"f","s":"|EF(B)|","t":0.35,"v":1.35},{"p":"f","s":"|EF(B)|","t":0.4,"v":1.35},{"p":"f","s":"|EF(B)|","t":0.4008,"v":1.0},{"p":"f","s":"|EF(B)|","t":0.4065,"v":0.78},{"p":"f","s":"|EF(B)|","t":0.4106,"v":0.85},{"p":"f","s":"|EF(B)|","t":0.4146,"v":1.0},{"p":"f","s":"|EF(B)|","t":0.4187,"v":1.05},{"p":"f","s":"|EF(B)|","t":0.4238,"v":1.0},{"p":"f","s":"|EF(B)|","t":0.433,"v":1.1},{"p":"f","s":"|EF(B)|","t":0.4492,"v":1.15},{"p":"f","s":"|EF(B)|","t":0.4504,"v":0.9},{"p":"f","s":"|EF(B)|","t":0.4533,"v":1.15},{"p":"f","s":"|EF(B)|","t":0.4573,"v":1.3},{"p":"f","s":"|EF(B)|","t":0.4614,"v":1.22},{"p":"f","s":"|EF(B)|","t":0.4654,"v":1.2},{"p":"f","s":"|EF(B)|","t":0.4736,"v":1.35},{"p":"f","s":"|EF(B)|","t":0.4817,"v":1.33},{"p":"f","s":"|EF(B)|","t":0.4919,"v":1.4},{"p":"f","s":"|EF(B)|","t":0.5,"v":1.42}
]},
"spacing":12,
"resolve":{"scale":{"color":"independent"},"legend":{"color":"independent"}},
"vconcat":[
{"spacing":241,"resolve":{"scale":{"color":"independent"},"legend":{"color":"independent"}},"hconcat":[
{"data":{"name":"d"},"width":286,"height":155,"transform":[{"filter":"datum.p=='a'"}],"mark":{"type":"line","strokeWidth":4.5,"clip":true,"interpolate":"monotone"},
"encoding":{"x":{"field":"t","type":"quantitative","scale":{"domain":[0.35,0.5],"nice":false},"axis":{"values":[0.35,0.4,0.45,0.5],"format":"~g","title":"Fault time [0.4-0.45] sec"}},
"y":{"field":"v","type":"quantitative","scale":{"domain":[-1.5,2],"nice":false,"zero":false},"axis":{"values":[-1,0,1,2],"format":"d","title":null}},
"color":{"field":"s","type":"nominal","scale":{"domain":["θEF(R)","θEF(Y)","θEF(B)","|EF(R)|","|EF(Y)|","|EF(B)|"],"range":["#0072BD","#D95319","#EDB120","#7E2F8E","#77AC30","#4DBEEE"]},"legend":{"title":null,"labelExpr":"substring(datum.label,0,1)=='θ' ? ['θ','\u00a0\u00a0'+substring(datum.label,1)] : datum.label","encoding":{"labels":{"lineHeight":{"value":11},"fontSize":{"value":{"expr":"substring(datum.label,0,1)=='θ' ? 15 : 17"}}}}}}},
"title":{"text":"(a) Three-phase fault"}},
{"data":{"name":"d"},"width":286,"height":155,"transform":[{"filter":"datum.p=='d'"}],"mark":{"type":"line","strokeWidth":4.5,"clip":true,"interpolate":"monotone"},
"encoding":{"x":{"field":"t","type":"quantitative","scale":{"domain":[0.35,0.5],"nice":false},"axis":{"values":[0.35,0.4,0.45,0.5],"format":"~g","title":"Fault time [0.4-0.45] sec"}},
"y":{"field":"v","type":"quantitative","scale":{"domain":[-1.5,2],"nice":false,"zero":false},"axis":{"values":[-1,0,1,2],"format":"d","title":null}},
"color":{"field":"s","type":"nominal","scale":{"domain":["θEF(R)","θEF(Y)","θEF(B)","|EF(R)|","|EF(Y)|","|EF(B)|"],"range":["#0072BD","#D95319","#EDB120","#7E2F8E","#77AC30","#4DBEEE"]},"legend":{"title":null,"labelExpr":"substring(datum.label,0,1)=='θ' ? ['θ','\u00a0\u00a0'+substring(datum.label,1)] : datum.label","encoding":{"labels":{"lineHeight":{"value":11},"fontSize":{"value":{"expr":"substring(datum.label,0,1)=='θ' ? 15 : 17"}}}}}}},
"title":{"text":"(a) Three-phase fault"}}
]},
{"spacing":241,"resolve":{"scale":{"color":"independent"},"legend":{"color":"independent"}},"hconcat":[
{"data":{"name":"d"},"width":286,"height":155,"transform":[{"filter":"datum.p=='b'"}],"mark":{"type":"line","strokeWidth":4.5,"clip":true,"interpolate":"monotone"},
"encoding":{"x":{"field":"t","type":"quantitative","scale":{"domain":[0.35,0.5],"nice":false},"axis":{"values":[0.35,0.4,0.45,0.5],"format":"~g","title":"Fault time [0.4-0.45] sec"}},
"y":{"field":"v","type":"quantitative","scale":{"domain":[-1,2],"nice":false,"zero":false},"axis":{"values":[-1,0,1,2],"format":"d","title":null}},
"color":{"field":"s","type":"nominal","scale":{"domain":["θEF(R)","θEF(Y)","θEF(B)","|EF(R)|","|EF(Y)|","|EF(B)|"],"range":["#0072BD","#D95319","#EDB120","#7E2F8E","#77AC30","#4DBEEE"]},"legend":{"title":null,"labelExpr":"substring(datum.label,0,1)=='θ' ? ['θ','\u00a0\u00a0'+substring(datum.label,1)] : datum.label","encoding":{"labels":{"lineHeight":{"value":11},"fontSize":{"value":{"expr":"substring(datum.label,0,1)=='θ' ? 15 : 17"}}}}}}},
"title":{"text":"(b) Double phase (Y-B) fault"}},
{"data":{"name":"d"},"width":286,"height":155,"transform":[{"filter":"datum.p=='e'"}],"mark":{"type":"line","strokeWidth":4.5,"clip":true,"interpolate":"monotone"},
"encoding":{"x":{"field":"t","type":"quantitative","scale":{"domain":[0.35,0.5],"nice":false},"axis":{"values":[0.35,0.4,0.45,0.5],"format":"~g","title":"Fault time [0.4-0.45] sec"}},
"y":{"field":"v","type":"quantitative","scale":{"domain":[-1,1.5],"nice":false,"zero":false},"axis":{"values":[-1,0,1],"format":"d","title":null}},
"color":{"field":"s","type":"nominal","scale":{"domain":["θEF(R)","θEF(Y)","θEF(B)","|EF(R)|","|EF(Y)|","|EF(B)|"],"range":["#0072BD","#D95319","#EDB120","#7E2F8E","#77AC30","#4DBEEE"]},"legend":{"title":null,"labelExpr":"substring(datum.label,0,1)=='θ' ? ['θ','\u00a0\u00a0'+substring(datum.label,1)] : datum.label","encoding":{"labels":{"lineHeight":{"value":11},"fontSize":{"value":{"expr":"substring(datum.label,0,1)=='θ' ? 15 : 17"}}}}}}},
"title":{"text":"(b) Double-phase fault"}}
]},
{"spacing":241,"resolve":{"scale":{"color":"independent"},"legend":{"color":"independent"}},"hconcat":[
{"data":{"name":"d"},"width":286,"height":155,"transform":[{"filter":"datum.p=='c'"}],"mark":{"type":"line","strokeWidth":4.5,"clip":true,"interpolate":"monotone"},
"encoding":{"x":{"field":"t","type":"quantitative","scale":{"domain":[0.35,0.5],"nice":false},"axis":{"values":[0.35,0.4,0.45,0.5],"format":"~g","title":"Fault time [0.4-0.45] sec"}},
"y":{"field":"v","type":"quantitative","scale":{"domain":[-1.5,1.5],"nice":false,"zero":false},"axis":{"values":[-1,0,1],"format":"d","title":null}},
"color":{"field":"s","type":"nominal","scale":{"domain":["θEF(R)","θEF(Y)","θEF(B)","|EF(R)|","|EF(Y)|","|EF(B)|"],"range":["#0072BD","#D95319","#EDB120","#7E2F8E","#77AC30","#4DBEEE"]},"legend":{"title":null,"labelExpr":"substring(datum.label,0,1)=='θ' ? ['θ','\u00a0\u00a0'+substring(datum.label,1)] : datum.label","encoding":{"labels":{"lineHeight":{"value":11},"fontSize":{"value":{"expr":"substring(datum.label,0,1)=='θ' ? 15 : 17"}}}}}}},
"title":{"text":"(c) Single-phase (R-G) to ground fault"}},
{"data":{"name":"d"},"width":286,"height":155,"transform":[{"filter":"datum.p=='f'"}],"mark":{"type":"line","strokeWidth":4.5,"clip":true,"interpolate":"monotone"},
"encoding":{"x":{"field":"t","type":"quantitative","scale":{"domain":[0.35,0.5],"nice":false},"axis":{"values":[0.35,0.4,0.45,0.5],"format":"~g","title":"Fault time [0.4-0.45] sec"}},
"y":{"field":"v","type":"quantitative","scale":{"domain":[-1,2],"nice":false,"zero":false},"axis":{"values":[-1,0,1,2],"format":"d","title":null}},
"color":{"field":"s","type":"nominal","scale":{"domain":["θEF(R)","θEF(Y)","θEF(B)","|EF(R)|","|EF(Y)|","|EF(B)|"],"range":["#0072BD","#D95319","#EDB120","#7E2F8E","#77AC30","#4DBEEE"]},"legend":{"title":null,"labelExpr":"substring(datum.label,0,1)=='θ' ? ['θ','\u00a0\u00a0'+substring(datum.label,1)] : datum.label","encoding":{"labels":{"lineHeight":{"value":11},"fontSize":{"value":{"expr":"substring(datum.label,0,1)=='θ' ? 15 : 17"}}}}}}},
"title":{"text":"(c) Single-phase-ground fault"}}
]}
],
"config":{
"font":"Liberation Sans",
"view":{"stroke":"#262626","strokeWidth":1.5},
"axis":{"labelFont":"Liberation Sans","labelFontSize":17,"labelColor":"#262626","titleFont":"Liberation Sans","titleFontSize":17,"titleFontWeight":"normal","titleColor":"#262626","gridColor":"#e3e3e3","gridWidth":1,"domain":false,"tickColor":"#262626","tickSize":-4,"tickWidth":1.5,"labelPadding":6},
"axisX":{"labelPadding":10,"titlePadding":5},
"legend":{"orient":"right","offset":28,"strokeColor":"#262626","padding":7,"symbolType":"M-2,0H13","symbolSize":81,"symbolStrokeWidth":5,"labelFont":"Liberation Sans","labelFontSize":17,"labelColor":"#000000","rowPadding":3,"labelOffset":57},
"title":{"orient":"bottom","anchor":"middle","frame":"bounds","font":"Liberation Serif","fontSize":24,"fontWeight":"normal","color":"#000000","offset":8}
}
}
